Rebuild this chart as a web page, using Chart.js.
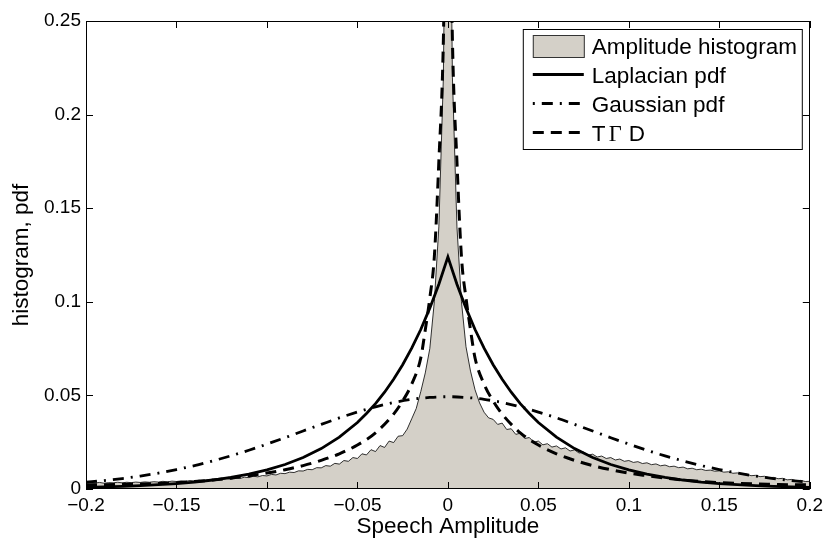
<!DOCTYPE html>
<html>
<head>
<meta charset="utf-8">
<script src="https://cdn.jsdelivr.net/npm/chart.js@4.4.0/dist/chart.umd.min.js"></script>
<style>
  html, body { margin: 0; padding: 0; background: #fff; }
  #wrap { width: 828px; height: 541px; }
</style>
</head>
<body>
<div id="wrap"><canvas id="myChart" width="828" height="541"></canvas></div>
<script>
'use strict';

// tick values
const xTicks = [-0.2, -0.15, -0.1, -0.05, 0, 0.05, 0.1, 0.15, 0.2];
const yTicks = [0, 0.05, 0.1, 0.15, 0.2, 0.25];

// amplitude histogram (bins every 0.0025)
const histX = [
  -0.2, -0.1975, -0.195, -0.1925, -0.19, -0.1875, -0.185, -0.1825, -0.18, -0.1775,
  -0.175, -0.1725, -0.17, -0.1675, -0.165, -0.1625, -0.16, -0.1575, -0.155, -0.1525,
  -0.15, -0.1475, -0.145, -0.1425, -0.14, -0.1375, -0.135, -0.1325, -0.13, -0.1275,
  -0.125, -0.1225, -0.12, -0.1175, -0.115, -0.1125, -0.11, -0.1075, -0.105, -0.1025,
  -0.1, -0.0975, -0.095, -0.0925, -0.09, -0.0875, -0.085, -0.0825, -0.08, -0.0775,
  -0.075, -0.0725, -0.07, -0.0675, -0.065, -0.0625, -0.06, -0.0575, -0.055, -0.0525,
  -0.05, -0.0475, -0.045, -0.0425, -0.04, -0.0375, -0.035, -0.0325, -0.03, -0.0275,
  -0.025, -0.0225, -0.02, -0.0175, -0.015, -0.0125, -0.01, -0.0075, -0.005, -0.0025,
  0,
  0.0025, 0.005, 0.0075, 0.01, 0.0125, 0.015, 0.0175, 0.02, 0.0225, 0.025,
  0.0275, 0.03, 0.0325, 0.035, 0.0375, 0.04, 0.0425, 0.045, 0.0475, 0.05,
  0.0525, 0.055, 0.0575, 0.06, 0.0625, 0.065, 0.0675, 0.07, 0.0725, 0.075,
  0.0775, 0.08, 0.0825, 0.085, 0.0875, 0.09, 0.0925, 0.095, 0.0975, 0.1,
  0.1025, 0.105, 0.1075, 0.11, 0.1125, 0.115, 0.1175, 0.12, 0.1225, 0.125,
  0.1275, 0.13, 0.1325, 0.135, 0.1375, 0.14, 0.1425, 0.145, 0.1475, 0.15,
  0.1525, 0.155, 0.1575, 0.16, 0.1625, 0.165, 0.1675, 0.17, 0.1725, 0.175,
  0.1775, 0.18, 0.1825, 0.185, 0.1875, 0.19, 0.1925, 0.195, 0.1975, 0.2
];
const histY = [
  0.0031, 0.0034, 0.0032, 0.0035, 0.0031, 0.0034, 0.0033, 0.0036, 0.0033, 0.0036,
  0.0034, 0.0037, 0.0035, 0.0038, 0.0036, 0.0039, 0.0037, 0.0041, 0.0038, 0.0042,
  0.0040, 0.0043, 0.0041, 0.0045, 0.0043, 0.0047, 0.0045, 0.0049, 0.0047, 0.0052,
  0.0050, 0.0055, 0.0053, 0.0058, 0.0056, 0.0063, 0.0061, 0.0068, 0.0065, 0.0072,
  0.0070, 0.0078, 0.0075, 0.0084, 0.0082, 0.0090, 0.0088, 0.0097, 0.0096, 0.0105,
  0.0103, 0.0114, 0.0113, 0.0125, 0.0122, 0.0137, 0.0133, 0.0152, 0.0148, 0.0168,
  0.0163, 0.0188, 0.0182, 0.0210, 0.0200, 0.0232, 0.0222, 0.0256, 0.0248, 0.0282,
  0.0285, 0.0320, 0.0375, 0.0430, 0.0520, 0.0620, 0.0750, 0.1000, 0.1400, 0.2200,
  0.4500,
  0.2200, 0.1400, 0.1000, 0.0760, 0.0630, 0.0530, 0.0460, 0.0410, 0.0380, 0.0372,
  0.0345, 0.0352, 0.0318, 0.0322, 0.0292, 0.0298, 0.0270, 0.0275, 0.0250, 0.0256,
  0.0236, 0.0242, 0.0224, 0.0230, 0.0214, 0.0220, 0.0203, 0.0209, 0.0192, 0.0197,
  0.0181, 0.0186, 0.0171, 0.0176, 0.0163, 0.0168, 0.0155, 0.0160, 0.0148, 0.0152,
  0.0142, 0.0146, 0.0136, 0.0140, 0.0130, 0.0134, 0.0124, 0.0128, 0.0119, 0.0122,
  0.0114, 0.0117, 0.0108, 0.0111, 0.0103, 0.0106, 0.0099, 0.0101, 0.0095, 0.0097,
  0.0090, 0.0092, 0.0084, 0.0086, 0.0078, 0.0080, 0.0071, 0.0073, 0.0066, 0.0068,
  0.0061, 0.0062, 0.0055, 0.0057, 0.0049, 0.0051, 0.0044, 0.0046, 0.0040, 0.0041
];

// laplacian pdf
const lapX = [
  -0.2, -0.19, -0.18, -0.17, -0.16, -0.15, -0.14, -0.13, -0.12, -0.11,
  -0.1, -0.09, -0.08, -0.07, -0.06, -0.05, -0.045, -0.04, -0.035, -0.03,
  -0.025, -0.02, -0.015, -0.01, -0.005, 0,
  0.005, 0.01, 0.015, 0.02, 0.025, 0.03, 0.035, 0.04, 0.045, 0.05,
  0.06, 0.07, 0.08, 0.09, 0.1, 0.11, 0.12, 0.13, 0.14, 0.15,
  0.16, 0.17, 0.18, 0.19, 0.2
];
const lapY = [
  0.0008, 0.0011, 0.0014, 0.0018, 0.0023, 0.0029, 0.0037, 0.0048, 0.0062, 0.0079,
  0.0102, 0.0131, 0.0168, 0.0216, 0.0277, 0.0355, 0.0403, 0.0456, 0.0517, 0.0586,
  0.0664, 0.0752, 0.0852, 0.0966, 0.1094, 0.124,
  0.1094, 0.0966, 0.0852, 0.0752, 0.0664, 0.0586, 0.0517, 0.0456, 0.0403, 0.0355,
  0.0277, 0.0216, 0.0168, 0.0131, 0.0102, 0.0079, 0.0062, 0.0048, 0.0037, 0.0029,
  0.0023, 0.0018, 0.0014, 0.0011, 0.0008
];

// gaussian pdf
const gaussX = [
  -0.2, -0.19, -0.18, -0.17, -0.16, -0.15, -0.14, -0.13, -0.12, -0.11,
  -0.1, -0.09, -0.08, -0.07, -0.06, -0.05, -0.04, -0.03, -0.02, -0.01, 0,
  0.01, 0.02, 0.03, 0.04, 0.05, 0.06, 0.07, 0.08, 0.09, 0.1,
  0.11, 0.12, 0.13, 0.14, 0.15, 0.16, 0.17, 0.18, 0.19, 0.2
];
const gaussY = [
  0.0036, 0.0045, 0.0056, 0.0069, 0.0085, 0.0104, 0.0125, 0.0150, 0.0177, 0.0207,
  0.0240, 0.0274, 0.0310, 0.0345, 0.0380, 0.0411, 0.0439, 0.0462, 0.0479, 0.0489, 0.0493,
  0.0489, 0.0479, 0.0462, 0.0439, 0.0411, 0.0380, 0.0345, 0.0310, 0.0274, 0.0240,
  0.0207, 0.0177, 0.0150, 0.0125, 0.0104, 0.0085, 0.0069, 0.0056, 0.0045, 0.0036
];

// T Gamma D
const tgdX = [
  -0.2, -0.19, -0.18, -0.17, -0.16, -0.15, -0.14, -0.13, -0.12, -0.11,
  -0.1, -0.09, -0.08, -0.07, -0.06, -0.05, -0.04, -0.03, -0.025, -0.02,
  -0.015, -0.0125, -0.01, -0.0075, -0.005, -0.0025, 0,
  0.0025, 0.005, 0.0075, 0.01, 0.0125, 0.015, 0.02, 0.025, 0.03, 0.04,
  0.05, 0.06, 0.07, 0.08, 0.09, 0.1, 0.11, 0.12, 0.13, 0.14,
  0.15, 0.16, 0.17, 0.18, 0.19, 0.2
];
const tgdY = [
  0.0022, 0.0023, 0.0025, 0.0027, 0.0030, 0.0034, 0.0040, 0.0048, 0.0058, 0.0071,
  0.0085, 0.0103, 0.0125, 0.0153, 0.0188, 0.0235, 0.0300, 0.0400, 0.0470, 0.0560,
  0.0700, 0.0850, 0.1020, 0.1240, 0.1750, 0.2400, 0.4000,
  0.2400, 0.1750, 0.1240, 0.1020, 0.0850, 0.0700, 0.0560, 0.0470, 0.0400, 0.0300,
  0.0235, 0.0188, 0.0153, 0.0125, 0.0103, 0.0085, 0.0071, 0.0058, 0.0048, 0.0040,
  0.0034, 0.0030, 0.0027, 0.0025, 0.0023, 0.0022
];

const legendNames = ['Amplitude histogram', 'Laplacian pdf', 'Gaussian pdf', 'T\u0393D'];

function toPoints(xs, ys) {
  return xs.map((x, i) => ({ x: x, y: ys[i] }));
}

function fmtTick(v) {
  if (v === 0) return '0';
  return (v < 0 ? '\u2212' : '') + String(Math.abs(v));
}

const tickFont = { family: 'Liberation Sans, Arial, sans-serif', size: 19 };
const titleFont = { family: 'Liberation Sans, Arial, sans-serif', size: 22.5 };

// matlab style box + inward ticks
const boxTicks = {
  id: 'boxTicks',
  afterDatasetsDraw(chart) {
    const ctx = chart.ctx;
    const a = chart.chartArea;
    const xs = chart.scales.x;
    const ys = chart.scales.y;
    ctx.save();
    ctx.strokeStyle = '#000';
    ctx.lineWidth = 1;
    ctx.setLineDash([]);
    ctx.beginPath();
    xTicks.forEach(v => {
      const px = Math.round(xs.getPixelForValue(v)) + 0.5;
      ctx.moveTo(px, a.bottom); ctx.lineTo(px, a.bottom - 7);
      ctx.moveTo(px, a.top); ctx.lineTo(px, a.top + 7);
    });
    yTicks.forEach(v => {
      const py = Math.round(ys.getPixelForValue(v)) + 0.5;
      ctx.moveTo(a.left, py); ctx.lineTo(a.left + 7, py);
      ctx.moveTo(a.right, py); ctx.lineTo(a.right - 7, py);
    });
    ctx.stroke();
    ctx.strokeRect(Math.round(a.left) + 0.5, Math.round(a.top) + 0.5,
      Math.round(a.right - a.left) - 1, Math.round(a.bottom - a.top) - 1);
    ctx.restore();
  }
};

// legend box in the upper right corner
const boxLegend = {
  id: 'boxLegend',
  afterDraw(chart) {
    const ctx = chart.ctx;
    const a = chart.chartArea;
    const w = 279, h = 120;
    const left = a.right - 8 - w;
    const top = a.top + 8;
    ctx.save();
    ctx.fillStyle = '#fff';
    ctx.fillRect(left, top, w, h);
    ctx.strokeStyle = '#000';
    ctx.lineWidth = 1;
    ctx.setLineDash([]);
    ctx.strokeRect(left + 0.5, top + 0.5, w, h);

    const sx = left + 10, ex = left + 61, tx = left + 69;
    ctx.font = '22.5px Liberation Sans, Arial, sans-serif';
    ctx.textBaseline = 'alphabetic';
    ctx.fillStyle = '#000';
    chart.data.datasets.forEach((ds, i) => {
      const base = top + 24.5 + i * 29;
      const mid = base - 8;
      if (i === 0) {
        ctx.fillStyle = ds.backgroundColor;
        ctx.fillRect(sx, top + 6, ex - sx + 1, 22);
        ctx.strokeStyle = '#333';
        ctx.lineWidth = 1;
        ctx.strokeRect(sx + 0.5, top + 6.5, ex - sx, 22);
      } else {
        ctx.strokeStyle = '#000';
        ctx.lineWidth = ds.borderWidth;
        ctx.setLineDash(ds.borderDash || []);
        // dash-dot sample starts on the dot
        ctx.lineDashOffset = i === 2 ? 18 : 0;
        ctx.beginPath();
        ctx.moveTo(sx, mid);
        ctx.lineTo(ex, mid);
        ctx.stroke();
        ctx.setLineDash([]);
        ctx.lineDashOffset = 0;
      }
      ctx.fillStyle = '#000';
      if (i === 3) {
        ctx.fillText('T', tx, base);
        ctx.font = '22.5px Liberation Serif, Times New Roman, serif';
        ctx.fillText('\u0393', tx + 17, base);
        ctx.font = '22.5px Liberation Sans, Arial, sans-serif';
        ctx.fillText('D', tx + 37, base);
      } else {
        ctx.fillText(legendNames[i], tx, base);
      }
    });
    ctx.restore();
  }
};

const data = {
  datasets: [
    {
      label: legendNames[0],
      data: toPoints(histX, histY),
      backgroundColor: '#d4d0c8',
      borderColor: '#000',
      borderWidth: 0.8,
      fill: 'origin',
      tension: 0,
      order: 4
    },
    {
      label: legendNames[1],
      data: toPoints(lapX, lapY),
      borderColor: '#000',
      borderWidth: 2.8,
      fill: false,
      tension: 0,
      order: 1
    },
    {
      label: legendNames[2],
      data: toPoints(gaussX, gaussY),
      borderColor: '#000',
      borderWidth: 2.8,
      borderDash: [11, 7, 2, 7],
      fill: false,
      cubicInterpolationMode: 'monotone',
      order: 3
    },
    {
      label: legendNames[3],
      data: toPoints(tgdX, tgdY),
      borderColor: '#000',
      borderWidth: 3,
      borderDash: [11, 7],
      fill: false,
      cubicInterpolationMode: 'monotone',
      order: 2
    }
  ]
};

const config = {
  type: 'line',
  data: data,
  options: {
    responsive: false,
    animation: false,
    devicePixelRatio: 1,
    elements: { point: { radius: 0 } },
    layout: { padding: { left: 0, top: 21, right: 17, bottom: 0 } },
    scales: {
      x: {
        type: 'linear',
        min: -0.2,
        max: 0.2,
        afterBuildTicks: (scale) => { scale.ticks = xTicks.map(v => ({ value: v })); },
        afterFit: (scale) => { scale.height = 52; },
        grid: { display: false, drawTicks: false },
        border: { display: false },
        ticks: { color: '#000', font: tickFont, padding: 5, maxRotation: 0, callback: fmtTick },
        title: { display: true, text: 'Speech Amplitude', color: '#000', font: titleFont, padding: { top: 0, bottom: 1 } }
      },
      y: {
        type: 'linear',
        min: 0,
        max: 0.25,
        afterBuildTicks: (scale) => { scale.ticks = yTicks.map(v => ({ value: v })); },
        afterFit: (scale) => { scale.width = 86; },
        grid: { display: false, drawTicks: false },
        border: { display: false },
        ticks: { color: '#000', font: tickFont, padding: 5, callback: fmtTick },
        title: { display: true, text: 'histogram, pdf', color: '#000', font: titleFont, padding: { top: 8, bottom: 0 } }
      }
    },
    plugins: {
      legend: { display: false },
      tooltip: { enabled: false }
    }
  },
  plugins: [boxTicks, boxLegend]
};

const myChart = new Chart(document.getElementById('myChart'), config);
</script>
</body>
</html>
